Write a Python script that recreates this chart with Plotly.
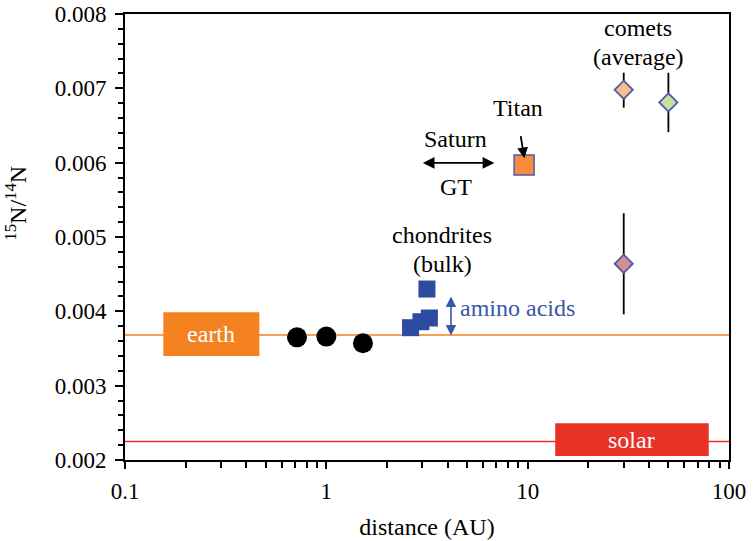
import math
import plotly.graph_objects as go

# ---- data ----
planet_names = ["Venus", "Earth", "Mars"]
planet_dist = [0.715, 1.0, 1.52]
planet_ratio = [0.00365, 0.00366, 0.00357]

chondrite_dist = [3.16, 3.25, 2.95, 2.62]
chondrite_ratio = [0.00430, 0.00391, 0.00386, 0.00378]

titan_dist = [9.6]
titan_ratio = [0.00597]

comet_dist = [30, 50, 30]
comet_ratio = [0.00698, 0.00681, 0.00464]
comet_err_plus = [0.00023, 0.00040, 0.00068]
comet_err_minus = [0.00024, 0.00040, 0.00068]
comet_colors = ["#f9bf8f", "#cbdf9e", "#d58f8f"]

earth_ratio = 0.00368
solar_ratio = 0.00225

x_tick_vals = [0.1, 1, 10, 100]
x_tick_text = ["0.1", "1", "10", "100"]
y_tick_vals = [0.002, 0.003, 0.004, 0.005, 0.006, 0.007, 0.008]
y_tick_text = ["0.002", "0.003", "0.004", "0.005", "0.006", "0.007", "0.008"]

FONT = "Liberation Serif, Times New Roman, DejaVu Serif, serif"
EARTH_C = "#f58220"
SOLAR_C = "#e93228"
BLUE = "#2d4ba0"
EDGE = "#4f5aa8"

fig = go.Figure()

fig.add_trace(go.Scatter(x=planet_dist, y=planet_ratio, mode="markers",
                         marker=dict(color="black", size=20, symbol="circle"),
                         showlegend=False))
fig.add_trace(go.Scatter(x=chondrite_dist, y=chondrite_ratio, mode="markers",
                         marker=dict(color=BLUE, size=17, symbol="square"),
                         showlegend=False))
fig.add_trace(go.Scatter(x=titan_dist, y=titan_ratio, mode="markers",
                         marker=dict(color="#f68d3e", size=20, symbol="square",
                                     line=dict(color=EDGE, width=1.5)),
                         showlegend=False))
fig.add_trace(go.Scatter(x=comet_dist, y=comet_ratio, mode="markers",
                         error_y=dict(type="data", symmetric=False,
                                      array=comet_err_plus, arrayminus=comet_err_minus,
                                      color="black", thickness=1.8, width=0),
                         marker=dict(color=comet_colors, size=14, symbol="diamond",
                                     line=dict(color=EDGE, width=1.8)),
                         showlegend=False))

# reference lines
fig.add_shape(type="line", xref="x domain", yref="y", x0=0, x1=1,
              y0=earth_ratio, y1=earth_ratio, line=dict(color=EARTH_C, width=1.5), layer="below")
fig.add_shape(type="line", xref="x domain", yref="y", x0=0, x1=1,
              y0=solar_ratio, y1=solar_ratio, line=dict(color=SOLAR_C, width=1.5), layer="below")

# label boxes
fig.add_shape(type="rect", xref="x", yref="y", x0=0.155, x1=0.465, y0=0.00340, y1=0.003987,
              fillcolor=EARTH_C, line=dict(width=0))
fig.add_shape(type="rect", xref="x", yref="y", x0=13.7, x1=79.3, y0=0.002054, y1=0.002494,
              fillcolor=SOLAR_C, line=dict(width=0))

L = math.log10
ann = []
def text(x, y, s, color="black", size=24):
    ann.append(dict(x=L(x), y=y, xref="x", yref="y", text=s, showarrow=False,
                    font=dict(family=FONT, size=size, color=color)))

text(math.sqrt(0.155 * 0.465), 0.00370, "earth", "white")
text(math.sqrt(13.7 * 79.3), 0.002274, "solar", "white")
text(3.77, 0.00503, "chondrites")
text(3.77, 0.00464, "(bulk)")
text(9.0, 0.00674, "Titan")
text(4.4, 0.00632, "Saturn")
text(4.4, 0.00567, "GT")
text(35.5, 0.00781, "comets")
text(35.5, 0.00742, "(average)")
ann.append(dict(x=L(4.5), y=0.00404, xref="x", yref="y", text="amino acids", showarrow=False,
                xanchor="left", font=dict(family=FONT, size=24, color="#3c56a6")))

# arrows
ann.append(dict(x=L(6.83), y=0.005996, xref="x", yref="y", text=" ", showarrow=True,
                ax=-76, ay=0, arrowside="end+start", arrowhead=2, arrowsize=1.3,
                arrowwidth=1.8, arrowcolor="black", standoff=0, startstandoff=0))
ann.append(dict(x=L(9.63), y=0.00606, xref="x", yref="y", text=" ", showarrow=True,
                ax=-6, ay=-36, arrowhead=2, arrowsize=1.2,
                arrowwidth=1.8, arrowcolor="black", standoff=0, startstandoff=0))
ann.append(dict(x=L(4.16), y=0.003675, xref="x", yref="y", text=" ", showarrow=True,
                ax=0, ay=-53, arrowside="end+start", arrowhead=2, arrowsize=1.3,
                arrowwidth=1.6, arrowcolor="#3c56a6", standoff=0, startstandoff=0))

# y axis title
ann.append(dict(x=-0.21, y=0.575, xref="paper", yref="paper", textangle=-90, showarrow=False,
                text="<sup>15</sup>N/<sup>14</sup>N", font=dict(family=FONT, size=24, color="black")))

minor_x = [m * 10 ** e for e in (-1, 0, 1) for m in range(2, 10)]

fig.update_layout(
    width=754, height=541,
    margin=dict(l=125, r=25, t=14, b=81, autoexpand=False),
    paper_bgcolor="white", plot_bgcolor="white",
    font=dict(family=FONT, size=23, color="black"),
    annotations=ann,
    xaxis=dict(type="log", range=[-1, 2], showgrid=False, zeroline=False, automargin=False,
               tickvals=x_tick_vals, ticktext=x_tick_text, ticks="outside",
               ticklen=7, tickwidth=1.5, tickcolor="black",
               showline=True, linecolor="black", linewidth=2, mirror=True,
               tickfont=dict(family=FONT, size=23), ticklabelstandoff=2,
               minor=dict(tickvals=minor_x, ticks="outside", ticklen=6,
                          tickwidth=1.5, tickcolor="black", showgrid=False),
               title=dict(text="distance (AU)", font=dict(family=FONT, size=24), standoff=16)),
    yaxis=dict(range=[0.002, 0.008], showgrid=False, zeroline=False, automargin=False,
               tickvals=y_tick_vals, ticktext=y_tick_text, ticks="outside",
               ticklen=8, tickwidth=1.5, tickcolor="black",
               showline=True, linecolor="black", linewidth=2, mirror=True,
               tickfont=dict(family=FONT, size=23), ticklabelstandoff=4,
               minor=dict(dtick=0.0002, ticks="outside", ticklen=5,
                          tickwidth=1.5, tickcolor="black", showgrid=False)),
)

fig.write_html("out.html", config={"displayModeBar": False},
               post_script="document.body.style.margin='0';")
